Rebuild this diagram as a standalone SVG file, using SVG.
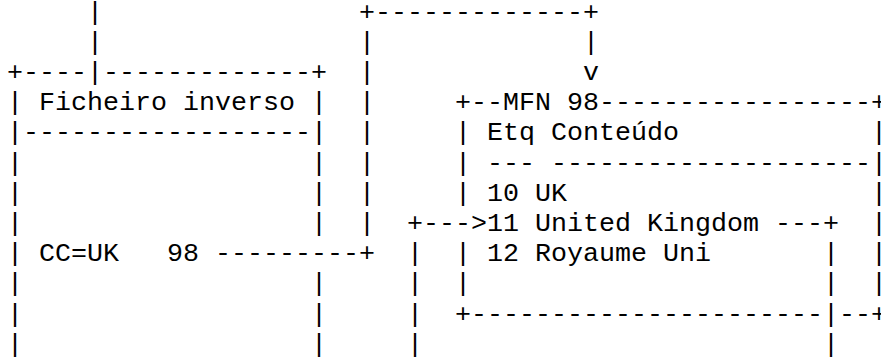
<svg xmlns="http://www.w3.org/2000/svg" width="881" height="361" viewBox="0 0 881 361" xml:space="preserve">
<style>
text{font-family:"Liberation Mono","Courier New",monospace;font-size:26.67px;fill:#000;white-space:pre}
</style>
<rect width="881" height="361" fill="#fff"/>
<g id="ficheiro-inverso">
<text x="7" y="79.9">+----</text>
<text x="103" y="79.9">-------------+</text>
<text x="7" y="110.1">| Ficheiro inverso |</text>
<text x="7" y="140.3">|------------------|</text>
<text x="7" y="170.5">|                  |</text>
<text x="7" y="200.7">|                  |</text>
<text x="7" y="230.9">|                  |</text>
<text x="7" y="261.1">| CC=UK   98</text>
<text x="7" y="291.3">|                  |</text>
<text x="7" y="321.5">|                  |</text>
<text x="7" y="351.7">|                  |</text>
</g>
<g id="mfn-98">
<text x="455" y="110.1">+--MFN 98-----------------+</text>
<text x="455" y="140.3">| Etq Conteúdo</text>
<text x="871" y="140.3">|</text>
<text x="455" y="170.5">| --- --------------------|</text>
<text x="455" y="200.7">| 10 UK</text>
<text x="871" y="200.7">|</text>
<text x="487" y="230.9">11 United Kingdom</text>
<text x="871" y="230.9">|</text>
<text x="455" y="261.1">| 12 Royaume Uni</text>
<text x="871" y="261.1">|</text>
<text x="455" y="291.3">|</text>
<text x="871" y="291.3">|</text>
<text x="455" y="321.5">+----------------------</text>
<text x="839" y="321.5">--+</text>
</g>
<g id="connectors">
<text x="87" y="19.5">|</text>
<text x="87" y="49.7">|</text>
<text x="87" y="79.9">|</text>
<text x="359" y="19.5">+-------------+</text>
<text x="359" y="49.7">|</text>
<text x="583" y="49.7">|</text>
<text x="359" y="79.9">|</text>
<text x="583" y="79.9">v</text>
<text x="359" y="110.1">|</text>
<text x="359" y="140.3">|</text>
<text x="359" y="170.5">|</text>
<text x="359" y="200.7">|</text>
<text x="359" y="230.9">|</text>
<text x="215" y="261.1">---------+</text>
<text x="407" y="230.9">+---&gt;</text>
<text x="775" y="230.9">---+</text>
<text x="407" y="261.1">|</text>
<text x="407" y="291.3">|</text>
<text x="407" y="321.5">|</text>
<text x="407" y="351.7">|</text>
<text x="823" y="261.1">|</text>
<text x="823" y="291.3">|</text>
<text x="823" y="321.5">|</text>
<text x="823" y="351.7">|</text>
</g>
</svg>
